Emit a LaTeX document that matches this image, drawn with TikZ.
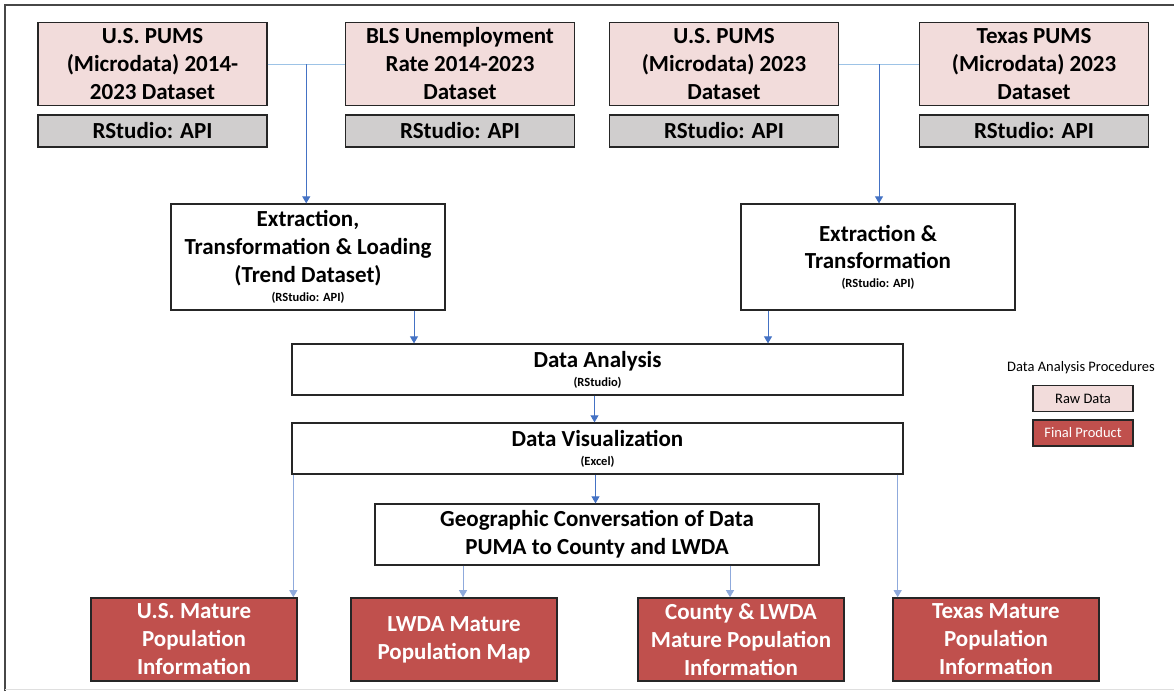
\documentclass[tikz,border=0pt]{standalone}
\usepackage{fontspec}
\setmainfont{Carlito}
\usetikzlibrary{arrows.meta,calc}

\definecolor{rawfill}{HTML}{F2DCDB}
\definecolor{apifill}{HTML}{D0CECE}
\definecolor{prodfill}{HTML}{C0504D}
\definecolor{edge}{HTML}{262626}
\definecolor{flowblue}{HTML}{4472C4}
\definecolor{paleblue}{HTML}{9DC3E6}

\tikzset{
  box/.style={draw=edge, line width=1.3pt, align=center, inner sep=0pt,
    font=\bfseries\fontsize{23}{28}\selectfont},
  rawbox/.style={box, fill=rawfill, minimum width=229pt, minimum height=83pt},
  apibox/.style={box, fill=apifill, minimum width=229pt, minimum height=32pt},
  stepbox/.style={box, fill=white},
  prodbox/.style={box, fill=prodfill, text=white, line width=1.6pt,
    minimum width=206pt, minimum height=83pt},
  keybox/.style={draw=edge, line width=1.3pt, minimum width=100pt, minimum height=26pt,
    inner sep=0pt, font=\fontsize{14.5}{16}\selectfont},
  flow/.style={flowblue, line width=0.9pt, -{Triangle[length=7pt,width=8pt]}},
  pale/.style={paleblue, line width=0.9pt},
}
\newcommand{\tool}[1]{\\[-9pt]{\fontsize{12.5}{14}\selectfont #1}}

\begin{document}
\begin{tikzpicture}[x=1pt, y=-1pt]
  \useasboundingbox (0,0) rectangle (1174,691);
  % outer frame
  \draw[edge!85, line width=1.6pt] (5,691) -- (5,5) -- (1174,5);
  \draw[gray!25, line width=0.8pt] (5,689.5) -- (1174,689.5);

  % raw data sources
  \node[rawbox] (pums1) at (152.5,64) {U.S. PUMS\\(Microdata) 2014-\\2023 Dataset};
  \node[rawbox] (bls)   at (460,64)   {BLS Unemployment\\Rate 2014-2023\\Dataset};
  \node[rawbox] (pums2) at (724,64)   {U.S. PUMS\\(Microdata) 2023\\Dataset};
  \node[rawbox] (texas) at (1034,64)  {Texas PUMS\\(Microdata) 2023\\Dataset};
  \node[apibox] (api1) at (152.5,131) {RStudio: API};
  \node[apibox] (api2) at (460,131)   {RStudio: API};
  \node[apibox] (api3) at (724,131)   {RStudio: API};
  \node[apibox] (api4) at (1034,131)  {RStudio: API};

  % processing steps
  \node[stepbox, minimum width=274pt, minimum height=106pt] (etl) at (308,257)
    {Extraction,\\Transformation \& Loading\\(Trend Dataset)\tool{(RStudio: API)}};
  \node[stepbox, minimum width=274pt, minimum height=106pt] (et) at (878,257)
    {Extraction \&\\[-1pt]Transformation\tool{(RStudio: API)}};
  \node[stepbox, minimum width=611pt, minimum height=51pt] (analysis) at (597.5,369.5)
    {Data Analysis\tool{(RStudio)}};
  \node[stepbox, minimum width=611pt, minimum height=51pt] (visual) at (597.5,448.5)
    {Data Visualization\tool{(Excel)}};
  \node[stepbox, minimum width=444pt, minimum height=61pt] (geo) at (597,534.5)
    {Geographic Conversation of Data\\PUMA to County and LWDA};

  % final products
  \node[prodbox] (usinfo)  at (194,639.5) {U.S. Mature\\Population\\Information};
  \node[prodbox] (lwdamap) at (454,639.5) {LWDA Mature\\Population Map};
  \node[prodbox] (cntinfo) at (741,639.5) {County \& LWDA\\Mature Population\\Information};
  \node[prodbox] (txinfo)  at (996,639.5) {Texas Mature\\Population\\Information};

  % legend
  \node[font=\fontsize{14.5}{16}\selectfont] (keytitle) at (1081,368) {Data Analysis Procedures};
  \node[keybox, fill=rawfill] (keyraw) at (1083,398.5) {Raw Data};
  \node[keybox, fill=prodfill, text=white] (keyprod) at (1083,433) {Final Product};

  % joins between the sources
  \draw[pale] (pums1.east) -- (bls.west);
  \draw[pale] (pums2.east) -- (texas.west);
  \coordinate (joinL) at ($(pums1.east)!0.5!(bls.west)$);
  \coordinate (joinR) at ($(pums2.east)!0.5!(texas.west)$);
  \draw[flow] (joinL) -- (joinL |- etl.north);
  \draw[flow] (joinR) -- (joinR |- et.north);

  % into and out of the analysis
  \draw[flow] ([xshift=106pt]etl.south) -- ([xshift=106pt]etl.south |- analysis.north);
  \draw[flow] ([xshift=-110pt]et.south) -- ([xshift=-110pt]et.south |- analysis.north);
  \draw[flow] ([xshift=-3pt]analysis.south) -- ([xshift=-3pt]visual.north);
  \draw[flow] ([xshift=-2pt]visual.south) -- ([xshift=-2pt]visual.south |- geo.north);

  % branches down to the products
  \draw[flow, flowblue!60] ([xshift=2pt]visual.south west) -- ([xshift=2pt]visual.south west |- usinfo.north);
  \draw[flow, flowblue!60] ([xshift=-6pt]visual.south east) -- ([xshift=-6pt]visual.south east |- txinfo.north);
  \draw[flow, flowblue!60] (geo.south -| 463,0) -- (lwdamap.north -| 463,0);
  \draw[flow, flowblue!60] (geo.south -| 730,0) -- (cntinfo.north -| 730,0);
\end{tikzpicture}
\end{document}
